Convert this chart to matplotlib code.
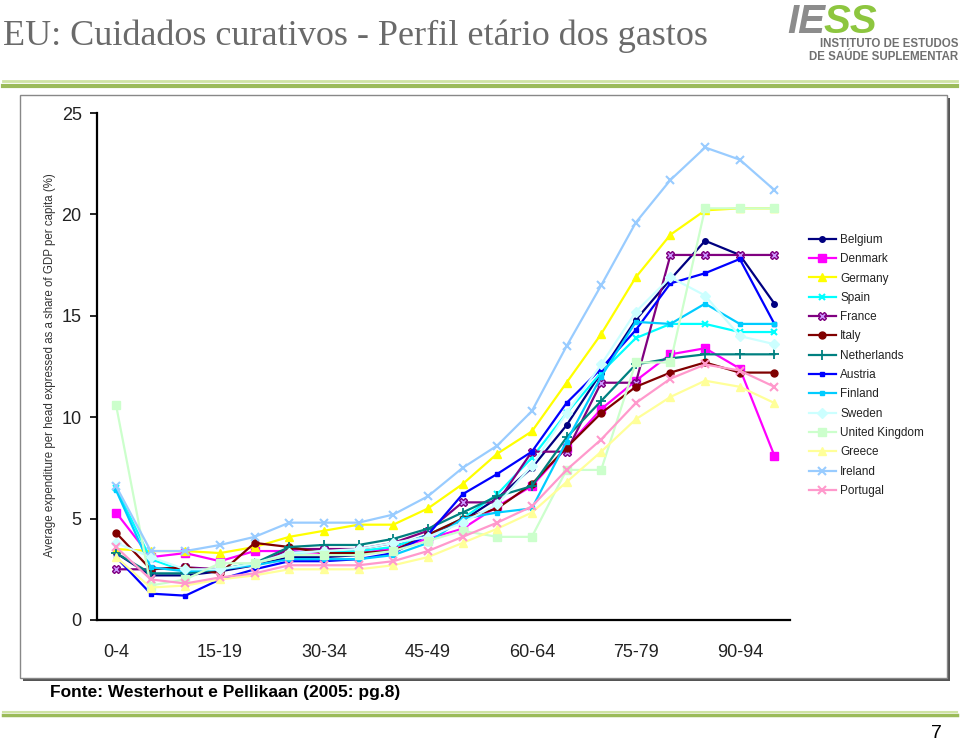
import matplotlib
matplotlib.use("Agg")
import matplotlib.pyplot as plt
from matplotlib.patches import Rectangle
from matplotlib.lines import Line2D

age_groups = ['0-4', '5-9', '10-14', '15-19', '20-24', '25-29', '30-34', '35-39',
              '40-44', '45-49', '50-54', '55-59', '60-64', '65-69', '70-74', '75-79',
              '80-84', '85-89', '90-94', '95+']

belgium = [3.3, 2.2, 2.2, 2.4, 2.7, 3.1, 3.1, 3.2, 3.6, 4.2, 4.9, 6.0, 7.5, 9.6, 12.2, 14.8, 16.8, 18.7, 18.0, 15.6]
denmark = [5.3, 3.1, 3.3, 2.9, 3.4, 3.4, 3.3, 3.3, 3.5, 4.0, 4.5, 5.6, 6.6, 8.5, 10.4, 11.8, 13.1, 13.4, 12.4, 8.1]
germany = [3.5, 3.4, 3.4, 3.3, 3.6, 4.1, 4.4, 4.7, 4.7, 5.5, 6.7, 8.2, 9.3, 11.7, 14.1, 16.9, 19.0, 20.2, 20.3, 20.3]
spain = [6.5, 3.0, 2.4, 2.5, 2.8, 3.3, 3.4, 3.4, 3.6, 4.2, 5.0, 6.2, 8.0, 10.2, 12.2, 13.9, 14.6, 14.6, 14.2, 14.2]
france = [2.5, 2.5, 2.6, 2.5, 2.7, 3.5, 3.5, 3.5, 3.8, 4.4, 5.8, 5.8, 8.3, 8.3, 11.7, 11.7, 18.0, 18.0, 18.0, 18.0]
italy = [4.3, 2.5, 2.6, 2.3, 3.8, 3.6, 3.3, 3.3, 3.4, 4.2, 5.0, 5.5, 6.7, 8.5, 10.2, 11.5, 12.2, 12.7, 12.2, 12.2]
netherlands = [3.3, 2.3, 2.3, 2.5, 2.8, 3.6, 3.7, 3.7, 4.0, 4.5, 5.3, 6.1, 6.6, 9.0, 10.8, 12.6, 12.9, 13.1, 13.1, 13.1]
austria = [3.1, 1.3, 1.2, 2.0, 2.5, 2.9, 2.9, 3.0, 3.3, 4.2, 6.2, 7.2, 8.3, 10.7, 12.4, 14.3, 16.6, 17.1, 17.8, 14.6]
finland = [6.4, 2.6, 2.4, 2.5, 2.7, 3.0, 3.0, 3.0, 3.2, 3.8, 5.0, 5.3, 5.5, 8.8, 12.0, 14.7, 14.6, 15.6, 14.6, 14.6]
sweden = [3.8, 3.1, 2.5, 2.5, 2.8, 3.3, 3.4, 3.5, 3.8, 4.1, 4.8, 5.7, 7.6, 10.2, 12.6, 15.2, 16.9, 16.0, 14.0, 13.6]
united_kingdom = [10.6, 1.7, 2.0, 2.8, 2.8, 3.2, 3.2, 3.2, 3.4, 3.9, 4.4, 4.1, 4.1, 7.4, 7.4, 12.7, 12.7, 20.3, 20.3, 20.3]
greece = [3.1, 1.6, 1.7, 2.0, 2.2, 2.5, 2.5, 2.5, 2.7, 3.1, 3.8, 4.5, 5.3, 6.8, 8.3, 9.9, 11.0, 11.8, 11.5, 10.7]
ireland = [6.6, 3.4, 3.4, 3.7, 4.1, 4.8, 4.8, 4.8, 5.2, 6.1, 7.5, 8.6, 10.3, 13.5, 16.5, 19.6, 21.7, 23.3, 22.7, 21.2]
portugal = [3.6, 2.0, 1.8, 2.1, 2.3, 2.7, 2.7, 2.7, 2.9, 3.4, 4.1, 4.8, 5.6, 7.4, 8.9, 10.7, 11.9, 12.6, 12.3, 11.5]

countries = ['Belgium', 'Denmark', 'Germany', 'Spain', 'France', 'Italy', 'Netherlands',
             'Austria', 'Finland', 'Sweden', 'United Kingdom', 'Greece', 'Ireland', 'Portugal']
series = [belgium, denmark, germany, spain, france, italy, netherlands,
          austria, finland, sweden, united_kingdom, greece, ireland, portugal]

styles = {
    'Belgium':        dict(color='#000080', marker='o', ms=4),
    'Denmark':        dict(color='#FF00FF', marker='s', ms=6),
    'Germany':        dict(color='#FFFF00', marker='^', ms=6),
    'Spain':          dict(color='#00FFFF', marker='x', ms=5, mew=1.5),
    'France':         dict(color='#800080', marker='X', ms=6, mfc='#CC99FF'),
    'Italy':          dict(color='#800000', marker='o', ms=5),
    'Netherlands':    dict(color='#008080', marker='+', ms=7, mew=1.3),
    'Austria':        dict(color='#0000FF', marker='s', ms=3),
    'Finland':        dict(color='#00CCFF', marker='s', ms=2.5),
    'Sweden':         dict(color='#CCFFFF', marker='D', ms=5),
    'United Kingdom': dict(color='#CCFFCC', marker='s', ms=6),
    'Greece':         dict(color='#FFFF99', marker='^', ms=6),
    'Ireland':        dict(color='#99CCFF', marker='x', ms=6, mew=1.5),
    'Portugal':       dict(color='#FF99CC', marker='x', ms=6, mew=1.5),
}

W, H = 960, 741
fig = plt.figure(figsize=(W / 100, H / 100), dpi=100)
fig.patch.set_facecolor('white')

def fx(px):
    return px / W

def fy(py):
    return 1 - py / H

SANS = ['Liberation Sans', 'DejaVu Sans']

# Frame around the chart image with shadow
fig.add_artist(Rectangle((fx(23), fy(681)), fx(927), 583 / H, transform=fig.transFigure,
                         facecolor='#555555', edgecolor='none', zorder=0))
fig.add_artist(Rectangle((fx(20), fy(678)), fx(927), 583 / H, transform=fig.transFigure,
                         facecolor='white', edgecolor='#888888', lw=1, zorder=0.5))

ax = fig.add_axes([fx(97), fy(620), fx(693), (620 - 113) / H])
ax.set_zorder(2)
ax.patch.set_alpha(0)

x = list(range(len(age_groups)))
handles = []
for name, vals in zip(countries, series):
    st = dict(styles[name])
    color = st.pop('color')
    mfc = st.pop('mfc', color)
    line, = ax.plot(x, vals, color=color, lw=1.6, mfc=mfc, mec=color, label=name, **st)
    handles.append(line)

ax.set_xlim(-0.55, 19.45)
ax.set_ylim(0, 25)
ax.set_yticks([0, 5, 10, 15, 20, 25])
ax.set_xticks(x[::3])
ax.set_xticklabels(age_groups[::3])
for s in ['top', 'right']:
    ax.spines[s].set_visible(False)
for s in ['left', 'bottom']:
    ax.spines[s].set_linewidth(1.6)
    ax.spines[s].set_color('black')
ax.tick_params(axis='y', length=5, width=1.2, labelsize=13, pad=6, colors='black')
ax.tick_params(axis='x', length=0, labelsize=13, pad=17)
for lab in ax.get_xticklabels() + ax.get_yticklabels():
    lab.set_color('#222222')
    lab.set_family(SANS)

fig.text(fx(50), fy(365), 'Average expenditure per head expressed as a share of GDP per capita (%)',
         rotation=90, ha='center', va='center', fontsize=8.3, color='#333333', family=SANS)

leg = ax.legend(handles=handles, loc='upper left', bbox_to_anchor=(fx(803), fy(228)),
                bbox_transform=fig.transFigure, frameon=False, fontsize=8.5,
                handlelength=2.3, handletextpad=0.35, labelspacing=0.62, borderpad=0)
for t in leg.get_texts():
    t.set_color('#222222')
    t.set_family(SANS)

# Title
fig.text(fx(3), fy(36), 'EU: Cuidados curativos - Perfil etário dos gastos', fontsize=26,
         family=['Liberation Serif', 'DejaVu Serif'], color='#6a6a6a', ha='left', va='center')

# Logo
fig.text(fx(787), fy(33), 'IE', fontsize=29, fontweight='bold', fontstyle='italic',
         family=SANS, color='#8c8c8c', ha='left', va='baseline')
fig.text(fx(824), fy(33), 'SS', fontsize=29, fontweight='bold', fontstyle='italic',
         family=SANS, color='#8dc63f', ha='left', va='baseline')
fig.text(fx(958), fy(44), 'INSTITUTO DE ESTUDOS', fontsize=8.3, fontweight='bold',
         family=SANS, color='#707070', ha='right', va='center')
fig.text(fx(958), fy(57), 'DE SAÚDE SUPLEMENTAR', fontsize=8.3, fontweight='bold',
         family=SANS, color='#707070', ha='right', va='center')

# Green rules
fig.add_artist(Line2D([fx(3), fx(957)], [fy(81), fy(81)], transform=fig.transFigure,
                      color='#cfe3a4', lw=2))
fig.add_artist(Line2D([fx(3), fx(957)], [fy(86), fy(86)], transform=fig.transFigure,
                      color='#9bbb59', lw=3))
fig.add_artist(Line2D([fx(3), fx(957)], [fy(712), fy(712)], transform=fig.transFigure,
                      color='#cfe3a4', lw=1.5))
fig.add_artist(Line2D([fx(3), fx(957)], [fy(715), fy(715)], transform=fig.transFigure,
                      color='#9bbb59', lw=2.5))

# Footer
fig.text(fx(50), fy(692), 'Fonte: Westerhout e Pellikaan (2005: pg.8)', fontsize=12.5,
         fontweight='bold', family=SANS, color='black', ha='left', va='center')
fig.text(fx(942), fy(733), '7', fontsize=14, family=SANS,
         color='black', ha='right', va='center')

fig.savefig('out.png', dpi=100)
